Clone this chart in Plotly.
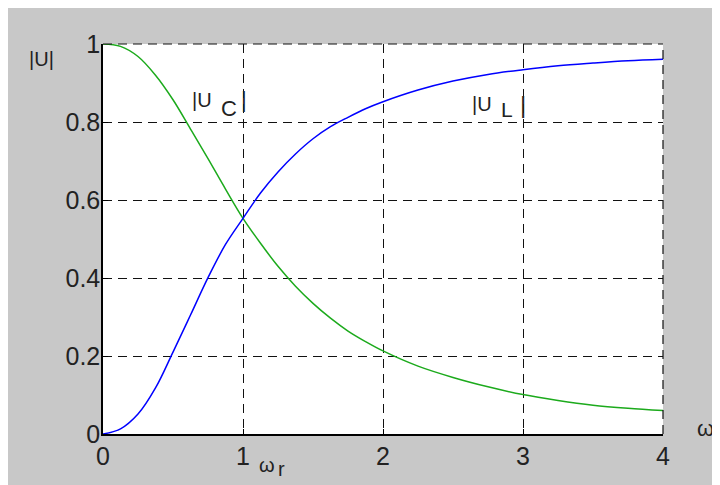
import plotly.graph_objects as go

# Data
omega = [0, 0.125, 0.25, 0.375, 0.5, 0.625, 0.75, 0.875, 1.0, 1.125, 1.25, 1.375, 1.5,
         1.625, 1.75, 1.875, 2.0, 2.25, 2.5, 2.75, 3.0, 3.25, 3.5, 3.75, 4.0]
u_c = [1.0, 0.994, 0.968, 0.920, 0.857, 0.782, 0.706, 0.628, 0.553, 0.489, 0.430, 0.379, 0.335,
       0.297, 0.264, 0.237, 0.213, 0.174, 0.145, 0.121, 0.101, 0.086, 0.074, 0.066, 0.060]
u_l = [0.0, 0.013, 0.051, 0.118, 0.210, 0.305, 0.401, 0.486, 0.553, 0.618, 0.672, 0.718, 0.757,
       0.788, 0.812, 0.834, 0.852, 0.882, 0.905, 0.922, 0.934, 0.944, 0.951, 0.957, 0.961]
x_ticks = [0, 1, 2, 3, 4]
x_tick_text = ["0", "1", "2", "3", "4"]
y_ticks = [0, 0.2, 0.4, 0.6, 0.8, 1]
y_tick_text = ["0", "0.2", "0.4", "0.6", "0.8", "1"]

OFF = 8  # page body margin
W, H = 712, 477
L, R, T, B = 95, 57, 36, 51
PW, PH = W - L - R, H - T - B


def P(px, py):
    # page pixel -> paper coords
    fx, fy = px - OFF, py - OFF
    return (fx - L) / PW, (H - B - fy) / PH


FONT = "Liberation Sans, Arial, sans-serif"
GRAY = "#c8c8c8"

fig = go.Figure()
fig.add_trace(go.Scatter(x=omega, y=u_c, mode="lines",
                         line=dict(color="#1caa1c", width=1.5, shape="spline", smoothing=1.0),
                         showlegend=False))
fig.add_trace(go.Scatter(x=omega, y=u_l, mode="lines",
                         line=dict(color="#0000ff", width=1.5, shape="spline", smoothing=1.0),
                         showlegend=False))

grid = dict(showgrid=True, gridcolor="#111111", gridwidth=1.2, griddash="9px,6px")

fig.update_xaxes(range=[0, 4], tickvals=x_ticks, ticktext=x_tick_text,
                 showline=True, linecolor="black", linewidth=1.5,
                 ticks="inside", ticklen=5, tickcolor="black", tickwidth=1.2,
                 zeroline=False, ticklabelstandoff=-1,
                 tickfont=dict(family=FONT, size=25, color="#222222"), **grid)
fig.update_yaxes(range=[0, 1], tickvals=y_ticks, ticktext=y_tick_text,
                 showline=True, linecolor="black", linewidth=1.5,
                 ticks="inside", ticklen=5, tickcolor="black", tickwidth=1.2,
                 zeroline=False, ticklabelstandoff=-4,
                 tickfont=dict(family=FONT, size=25, color="#222222"), **grid)

shapes = [
    dict(type="line", xref="paper", yref="paper", x0=0, x1=1, y0=1, y1=1,
         line=dict(color="#111111", width=1.2, dash="9px,6px")),
    dict(type="line", xref="paper", yref="paper", x0=1, x1=1, y0=0, y1=1,
         line=dict(color="#111111", width=1.2, dash="9px,6px")),
]

annotations = []


def txt(text, px, py, size, xanchor="left"):
    x, y = P(px, py)
    annotations.append(dict(text=text, x=x, y=y, xref="paper", yref="paper",
                            xanchor=xanchor, yanchor="middle", showarrow=False,
                            font=dict(family=FONT, size=size, color="#222222")))


txt("|U|", 41, 59, 20, "center")
txt("|U", 190, 100, 20)
txt("C", 219, 109, 22)
txt("|", 239, 99, 22)
txt("|U", 470, 104, 20)
txt("L", 499, 110, 21)
txt("|", 518, 104, 24)
txt("ω", 705, 428, 22, "center")
txt("ω", 257, 465, 20)
txt("r", 276, 469, 20)

fig.update_layout(width=W, height=H, margin=dict(l=L, r=R, t=T, b=B, pad=0),
                  paper_bgcolor=GRAY, plot_bgcolor="white",
                  shapes=shapes, annotations=annotations)

fig.write_html("out.html")
